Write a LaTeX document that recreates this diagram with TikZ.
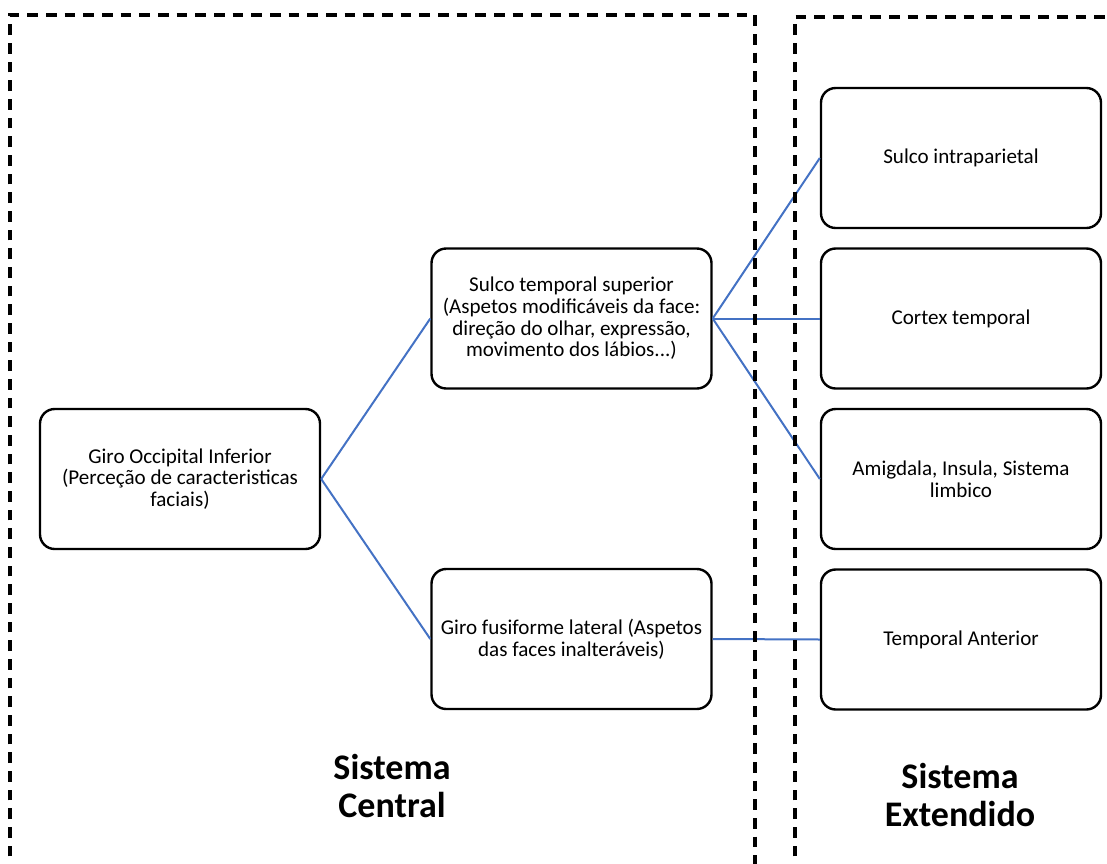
\documentclass[tikz,border=0pt]{standalone}
\usepackage{fontspec}
\setmainfont{Carlito}
\definecolor{linkblue}{HTML}{4472C4}
\tikzset{
  box/.style={draw=black, line width=1.8pt, rounded corners=11pt, minimum width=210pt, minimum height=105pt, align=center, font=\fontsize{15.8}{16.3}\selectfont, inner sep=2pt},
  link/.style={draw=linkblue, line width=1.5pt},
  frame/.style={draw=black, line width=2.3pt, dash pattern=on 8pt off 6pt},
  title/.style={align=center, font=\fontsize{27}{28}\selectfont\bfseries}
}
\begin{document}
\begin{tikzpicture}[x=0.75pt, y=-0.75pt]
\useasboundingbox (0,0) rectangle (1107,864);
\node[box] (occ) at (180,479) {Giro Occipital Inferior\\(Perceção de caracteristicas\\faciais)};
\node[box] (sts) at (571.5,318.5) {Sulco temporal superior\\(Aspetos modificáveis da face:\\direção do olhar, expressão,\\movimento dos lábios...)};
\node[box] (fus) at (571.5,639) {Giro fusiforme lateral (Aspetos\\das faces inalteráveis)};
\node[box] (ips) at (961,158) {Sulco intraparietal};
\node[box] (ctx) at (961,318.5) {Cortex temporal};
\node[box] (amy) at (961,479) {Amigdala, Insula, Sistema\\limbico};
\node[box] (tan) at (961,639.5) {Temporal Anterior};
\draw[link] (occ.east) -- (sts.west);
\draw[link] (occ.east) -- (fus.west);
\draw[link] (sts.east) -- (ips.west);
\draw[link] (sts.east) -- (ctx.west);
\draw[link] (sts.east) -- (amy.west);
\draw[link] (fus.east) -- (tan.west);
\coordinate (f1a) at (10,875);
\coordinate (f1b) at (10,15);
\coordinate (f1c) at (755,15);
\coordinate (f1d) at (755,875);
\coordinate (f2a) at (795,875);
\coordinate (f2b) at (795,17);
\coordinate (f2c) at (1115,17);
\draw[frame] (f1a) -- (f1b) -- (f1c) -- (f1d);
\draw[frame] (f2a) -- (f2b) -- (f2c);
\node[title] (tc) at (392,786) {Sistema\\Central};
\node[title] (te) at (960,795) {Sistema\\Extendido};
\end{tikzpicture}
\end{document}
